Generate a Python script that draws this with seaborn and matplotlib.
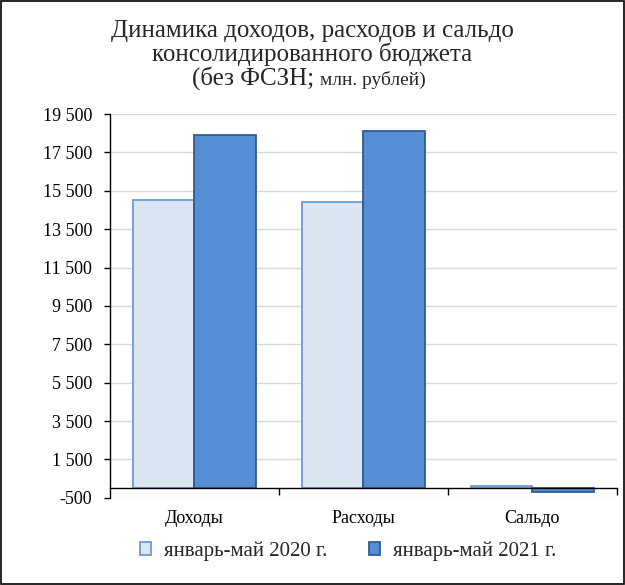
import numpy as np
import pandas as pd
import matplotlib
matplotlib.use('Agg')
import matplotlib.pyplot as plt
from matplotlib.patches import Rectangle, Patch
from matplotlib.ticker import FuncFormatter
import seaborn as sns

# данные (млн. рублей)
categories = ['Доходы', 'Расходы', 'Сальдо']
series_names = ['январь-май 2020 г.', 'январь-май 2021 г.']
values_2020 = [15040, 14920, 120]
values_2021 = [18420, 18630, -210]

fill_colors = ['#DCE6F2', '#558ED5']
edge_colors = ['#6A9BDB', '#2F5C93']

sns.set_theme(style='white')
plt.rcParams['font.family'] = ['Liberation Serif', 'DejaVu Serif']

df = pd.DataFrame({
    'cat': categories * 2,
    'period': [series_names[0]] * 3 + [series_names[1]] * 3,
    'value': values_2020 + values_2021,
})

fig = plt.figure(figsize=(6.25, 5.85), dpi=100)
ax = fig.add_axes([0.176, 0.149, 0.811, 0.656])

sns.barplot(data=df, x='cat', y='value', hue='period', palette=fill_colors,
            width=0.73, gap=0, ax=ax, legend=False, saturation=1)
for cont, ec in zip(ax.containers, edge_colors):
    for bar in cont:
        bar.set_edgecolor(ec)
        bar.set_linewidth(1.3)

ax.set_ylim(-500, 19500)
ax.set_xlim(-0.5, 2.5)
ax.set_yticks(range(-500, 19501, 2000))
ax.yaxis.set_major_formatter(FuncFormatter(lambda v, p: f'{v:,.0f}'.replace(',', ' ')))
ax.yaxis.grid(True, color='#D9D9D9', linewidth=1)
ax.set_axisbelow(True)
ax.set_xlabel('')
ax.set_ylabel('')

for s in ['top', 'right']:
    ax.spines[s].set_visible(False)
ax.spines['left'].set_color('black')
ax.spines['left'].set_linewidth(1)
ax.spines['bottom'].set_position(('data', 0))
ax.spines['bottom'].set_color('black')
ax.spines['bottom'].set_linewidth(1)

ax.tick_params(axis='y', which='major', left=True, length=4, width=1, color='black',
               labelsize=13, pad=9, labelcolor='black')
ax.set_xticks([0, 1, 2])
ax.set_xticklabels(categories)
ax.set_xticks([0.5, 1.5, 2.5], minor=True)
ax.tick_params(axis='x', which='major', length=0, labelsize=13, pad=16, labelcolor='black')
ax.tick_params(axis='x', which='minor', bottom=True, length=5, width=1, color='black',
               direction='out')

# заголовок
fig.text(0.5, 1 - 37 / 585, 'Динамика доходов, расходов и сальдо', ha='center', va='baseline', fontsize=18)
fig.text(0.5, 1 - 61 / 585, 'консолидированного бюджета', ha='center', va='baseline', fontsize=18)
fig.text(0.512, 1 - 85 / 585, '(без ФСЗН; ', ha='right', va='baseline', fontsize=18)
fig.text(0.512, 1 - 85 / 585, 'млн. рублей)', ha='left', va='baseline', fontsize=14)

handles = [Patch(facecolor=fc, edgecolor=ec, linewidth=1.3) for fc, ec in zip(fill_colors, edge_colors)]
fig.legend(handles, series_names, loc='center', bbox_to_anchor=(348 / 625, 1 - 551 / 585),
           ncol=2, frameon=False, fontsize=15, handlelength=0.55, handleheight=0.55,
           handletextpad=0.6, columnspacing=2.0)

fig.patches.append(Rectangle((0.002, 0.002), 0.996, 0.996, transform=fig.transFigure,
                             fill=False, edgecolor='black', linewidth=1.2))

fig.savefig('out.png', dpi=100)
